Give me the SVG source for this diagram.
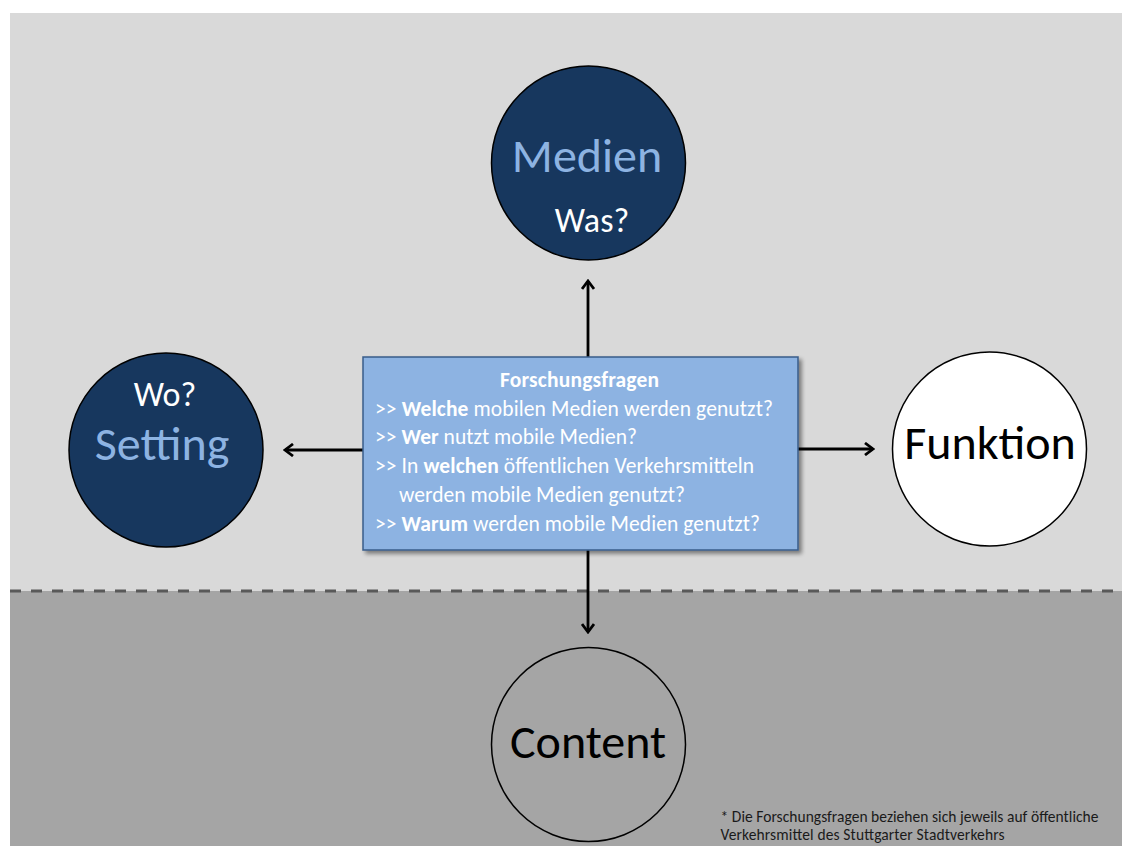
<svg xmlns="http://www.w3.org/2000/svg" width="1122" height="846" viewBox="0 0 1122 846">
<defs>
<style>
text{font-family:Calibri,Carlito,Lato,"Open Sans",sans-serif}
.big{font-size:48px;text-anchor:middle}
.q{font-size:34px;text-anchor:middle;fill:#ffffff}
.lb{fill:#8DB3E2}
.circ{stroke:#000;stroke-width:1.5}
.bt{font-size:21.5px;fill:#ffffff}
.b{font-weight:bold}
.conn{stroke:#000;stroke-width:2.8;fill:none;marker-end:url(#ah)}
.fn{font-size:15.5px;fill:#1a1a1a}
</style>
<marker id="ah" viewBox="0 0 12 14" refX="10" refY="7" markerWidth="12" markerHeight="14" markerUnits="userSpaceOnUse" orient="auto">
<path d="M2,1 L10,7 L2,13" fill="none" stroke="#000" stroke-width="2.8" stroke-linejoin="miter"/>
</marker>
<filter id="sh" x="-10%" y="-10%" width="120%" height="130%">
<feGaussianBlur in="SourceAlpha" stdDeviation="2"/>
<feOffset dx="3" dy="3" result="o"/>
<feComponentTransfer><feFuncA type="linear" slope="0.45"/></feComponentTransfer>
<feMerge><feMergeNode/><feMergeNode in="SourceGraphic"/></feMerge>
</filter>
</defs>
<rect x="0" y="0" width="1122" height="846" fill="#ffffff"/>
<rect x="10" y="13" width="1112" height="578" fill="#D9D9D9"/>
<rect x="10" y="591" width="1112" height="255" fill="#A5A5A5"/>
<line x1="10" y1="591" x2="1122" y2="591" stroke="#595959" stroke-width="3" stroke-dasharray="11,10"/>

<g id="connectors">
<line class="conn" x1="588" y1="357" x2="588" y2="281"/>
<line class="conn" x1="363" y1="450" x2="285" y2="450"/>
<line class="conn" x1="798" y1="449" x2="873" y2="449"/>
<line class="conn" x1="588" y1="550" x2="588" y2="632"/>
</g>

<g id="medien">
<circle class="circ" cx="588.5" cy="163" r="97" fill="#17375E"/>
<text class="big lb" x="587" y="172">Medien</text>
<text class="q" x="592" y="232">Was?</text>
</g>

<g id="setting">
<circle class="circ" cx="166" cy="450" r="97" fill="#17375E"/>
<text class="q" x="165" y="406">Wo?</text>
<text class="big lb" x="162" y="460">Setting</text>
</g>

<g id="funktion">
<circle class="circ" cx="989.5" cy="449" r="97" fill="#ffffff"/>
<text class="big" x="990" y="459" fill="#000">Funktion</text>
</g>

<g id="content">
<circle class="circ" cx="588.5" cy="744.5" r="97" fill="none"/>
<text class="big" x="588" y="758" fill="#000">Content</text>
</g>

<g id="forschungsfragen">
<rect x="363" y="357" width="435" height="193" fill="#8DB3E2" stroke="#385D8A" stroke-width="1.5" filter="url(#sh)"/>
<text class="bt b" x="500" y="387" textLength="159" lengthAdjust="spacing">Forschungsfragen</text>
<text class="bt" x="375" y="416" textLength="398" lengthAdjust="spacing">&gt;&gt; <tspan class="b">Welche</tspan> mobilen Medien werden genutzt?</text>
<text class="bt" x="375" y="444" textLength="262" lengthAdjust="spacing">&gt;&gt; <tspan class="b">Wer</tspan> nutzt mobile Medien?</text>
<text class="bt" x="375" y="473" textLength="379" lengthAdjust="spacing">&gt;&gt; In <tspan class="b">welchen</tspan> öffentlichen Verkehrsmitteln</text>
<text class="bt" x="399" y="502" textLength="286" lengthAdjust="spacing">werden mobile Medien genutzt?</text>
<text class="bt" x="375" y="531" textLength="385" lengthAdjust="spacing">&gt;&gt; <tspan class="b">Warum</tspan> werden mobile Medien genutzt?</text>
</g>

<g id="footnote">
<text class="fn" x="720.5" y="822" textLength="378" lengthAdjust="spacing">* Die Forschungsfragen beziehen sich jeweils auf öffentliche</text>
<text class="fn" x="720.5" y="840" textLength="284" lengthAdjust="spacing">Verkehrsmittel des Stuttgarter Stadtverkehrs</text>
</g>
</svg>
